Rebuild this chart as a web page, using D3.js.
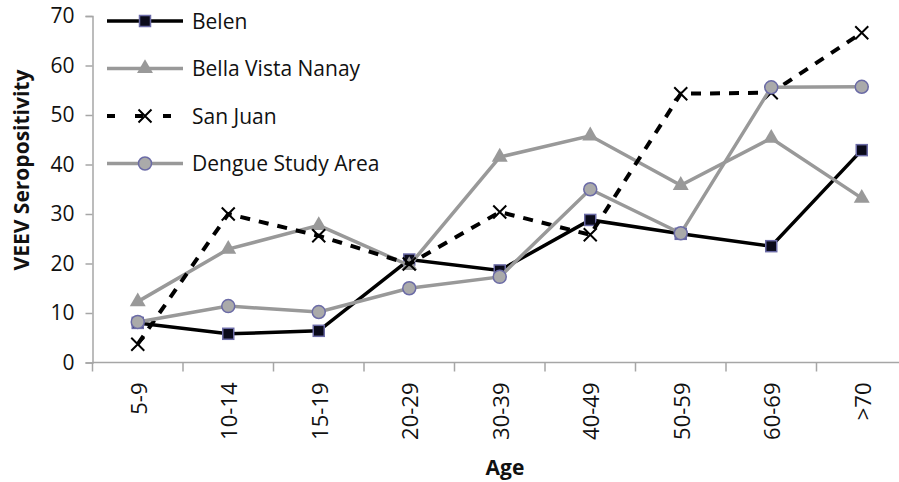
<!DOCTYPE html>
<html>
<head>
<meta charset="utf-8">
<script src="https://cdn.jsdelivr.net/npm/d3@7"></script>
<style>
  body { margin: 0; background: #fff; }
  text { font-family: "Open Sans", sans-serif; }
</style>
</head>
<body>
<svg id="chart" width="899" height="482"></svg>
<script>
const ages = ["5-9", "10-14", "15-19", "20-29", "30-39", "40-49", "50-59", "60-69", ">70"]
const belen = [8.0, 5.8, 6.4, 20.8, 18.6, 28.8, 26.0, 23.5, 42.9]
const bellaVista = [12.3, 22.9, 27.7, 19.6, 41.5, 45.8, 35.8, 45.3, 33.2]
const sanJuan = [3.7, 30.0, 25.6, 19.9, 30.4, 25.8, 54.3, 54.5, 66.6]
const dengue = [8.2, 11.4, 10.2, 15.0, 17.3, 35.0, 26.1, 55.6, 55.7]
const yTicks = [0, 10, 20, 30, 40, 50, 60, 70]

const series = [
    {name: "Belen", values: belen, color: "#000", width: 3.5, dash: null, marker: "square"},
    {name: "Bella Vista Nanay", values: bellaVista, color: "#999", width: 3.5, dash: null, marker: "triangle"},
    {name: "San Juan", values: sanJuan, color: "#000", width: 4, dash: "10,9", marker: "cross"},
    {name: "Dengue Study Area", values: dengue, color: "#999", width: 3.5, dash: null, marker: "circle"}
]

const svg = d3.select("#chart")
const plotLeft = 92.5, plotTop = 16, plotBottom = 362.5, plotRight = 907

const x = d3.scaleBand().domain(ages).range([plotLeft, plotRight])
const y = d3.scaleLinear().domain([0, 70]).range([plotBottom, plotTop])
const axisColor = "#a6a6a6"

// y axis
const yAxis = svg.append("g")
    .attr("transform", `translate(${plotLeft},0)`)
    .call(d3.axisLeft(y).tickValues(yTicks).tickSize(7).tickPadding(11))
yAxis.select(".domain").attr("stroke", axisColor).attr("stroke-width", 1.5)
yAxis.selectAll(".tick line").attr("stroke", axisColor).attr("stroke-width", 1.5)
yAxis.selectAll(".tick text")
    .attr("font-size", "21px").attr("fill", "#111")
    .attr("font-family", "Open Sans, sans-serif")

// x axis - ticks between categories
const xAxis = svg.append("g").attr("transform", `translate(0,${plotBottom})`)
xAxis.append("line")
    .attr("x1", plotLeft).attr("x2", plotRight)
    .attr("stroke", axisColor).attr("stroke-width", 1.5)
xAxis.selectAll(".xt")
    .data(ages)
    .join("line")
    .attr("x1", d => x(d)).attr("x2", d => x(d))
    .attr("y1", 0).attr("y2", 9)
    .attr("stroke", axisColor).attr("stroke-width", 1.5)
xAxis.selectAll(".xl")
    .data(ages)
    .join("text")
    .attr("transform", d => `translate(${x(d) + x.bandwidth() / 2 + 9},20) rotate(-90)`)
    .attr("text-anchor", "end")
    .attr("font-size", "22px")
    .attr("fill", "#111")
    .text(d => d)

// axis titles
svg.append("text")
    .attr("transform", "translate(29,170) rotate(-90)")
    .attr("text-anchor", "middle")
    .attr("font-size", "21px")
    .attr("font-weight", "bold")
    .attr("fill", "#111")
    .text("VEEV Seropositivity")

svg.append("text")
    .attr("x", 505).attr("y", 475)
    .attr("text-anchor", "middle")
    .attr("font-size", "21px")
    .attr("font-weight", "bold")
    .attr("fill", "#111")
    .text("Age")

function drawMarker(g, type, cx, cy) {
    if (type === "square") {
        g.append("rect")
            .attr("x", cx - 5.5).attr("y", cy - 5.5)
            .attr("width", 11).attr("height", 11)
            .attr("fill", "#0a0a1a").attr("stroke", "#6b6ba6").attr("stroke-width", 1.5)
    } else if (type === "triangle") {
        g.append("path")
            .attr("d", d3.symbol(d3.symbolTriangle, 110)())
            .attr("transform", `translate(${cx},${cy})`)
            .attr("fill", "#999")
    } else if (type === "cross") {
        const s = 6.5
        g.append("path")
            .attr("d", `M${cx - s},${cy - s}L${cx + s},${cy + s}M${cx - s},${cy + s}L${cx + s},${cy - s}`)
            .attr("stroke", "#000").attr("stroke-width", 2)
    } else if (type === "circle") {
        g.append("circle")
            .attr("cx", cx).attr("cy", cy).attr("r", 6.5)
            .attr("fill", "#aaa").attr("stroke", "#6b6ba6").attr("stroke-width", 1.5)
    }
}

const line = d3.line()
    .x((d, i) => x(ages[i]) + x.bandwidth() / 2)
    .y(d => y(d))

const plot = svg.append("g")
series.forEach(s => {
    const g = plot.append("g")
    g.append("path")
        .datum(s.values)
        .attr("d", line)
        .attr("fill", "none")
        .attr("stroke", s.color)
        .attr("stroke-width", s.width)
        .attr("stroke-dasharray", s.dash)
    s.values.forEach((v, i) => drawMarker(g, s.marker, x(ages[i]) + x.bandwidth() / 2, y(v)))
})

// legend
const legend = svg.append("g")
series.forEach((s, i) => {
    const ly = 21 + i * 47.5
    const g = legend.append("g")
    g.append("line")
        .attr("x1", 107).attr("x2", 183)
        .attr("y1", ly).attr("y2", ly)
        .attr("stroke", s.color)
        .attr("stroke-width", s.width)
        .attr("stroke-dasharray", s.dash ? "8,20" : null)
    drawMarker(g, s.marker, 145, ly)
    g.append("text")
        .attr("x", 192).attr("y", ly + 7.5)
        .attr("font-size", "21px")
        .attr("fill", "#111")
        .text(s.name)
})
</script>
</body>
</html>
